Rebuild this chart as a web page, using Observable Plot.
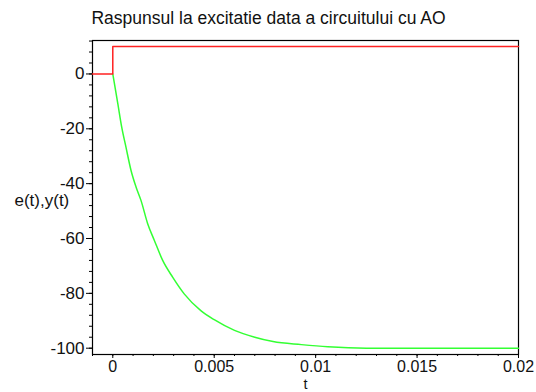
<!DOCTYPE html>
<html>
<head>
<meta charset="utf-8">
<script src="https://cdn.jsdelivr.net/npm/d3@7"></script>
<script src="https://cdn.jsdelivr.net/npm/@observablehq/plot@0.6"></script>
<style>
  html, body { margin: 0; padding: 0; background: #fff; }
</style>
</head>
<body>
<script>
const titleText = "Raspunsul la excitatie data a circuitului cu AO";
const xLabelText = "t";
const yLabelText = "e(t),y(t)";

// excitation e(t)
const tE = [-0.001, 0, 0, 0.02];
const vE = [0, 0, 10, 10];

// response y(t)
const tY = [0, 0.00025, 0.00044, 0.00065, 0.0009, 0.00115, 0.00139, 0.00172, 0.00205, 0.00246, 0.00295, 0.00352, 0.00434, 0.005, 0.006, 0.007, 0.0079, 0.0093, 0.0106, 0.0125, 0.0142, 0.02];
const vY = [0, -10.9, -19.4, -26.7, -35.2, -41.3, -46.1, -54.6, -60.7, -68.0, -74.1, -80.2, -86.3, -89.6, -93.5, -96.0, -97.6, -98.7, -99.5, -100, -100, -100];

const xTicks = [0, 0.005, 0.01, 0.015, 0.02];
const xTickLabels = ["0", "0.005", "0.01", "0.015", "0.02"];
const xMinorTicks = d3.range(-1, 21).map(i => i / 1000);
const yTicks = [-100, -80, -60, -40, -20, 0];
const yTickLabels = ["-100", "-80", "-60", "-40", "-20", "0"];
const yMinorTicks = d3.range(-100, 13, 4);

const eData = tE.map((t, i) => ({t, v: vE[i]}));
const yData = tY.map((t, i) => ({t, v: vY[i]}));

const chart = Plot.plot({
  width: 536,
  height: 392,
  marginLeft: 92,
  marginRight: 18,
  marginTop: 40,
  marginBottom: 38,
  style: {fontFamily: "'Liberation Sans', Arial, sans-serif", fontSize: "17px", background: "#fff", color: "#000"},
  x: {domain: [-0.001, 0.02]},
  y: {domain: [-102.3, 12.2]},
  marks: [
    Plot.axisX({ticks: xMinorTicks, tickSize: 2, text: null, label: null, stroke: "#000"}),
    Plot.axisX({ticks: xTicks, tickSize: 4, tickPadding: 2, tickFormat: (d) => xTickLabels[xTicks.indexOf(d)], label: null, fontSize: 16, fill: "#111"}),
    Plot.axisY({ticks: yMinorTicks, tickSize: 3, text: null, label: null, stroke: "#000"}),
    Plot.axisY({ticks: yTicks, tickSize: 6, tickPadding: 2, tickFormat: (d) => yTickLabels[yTicks.indexOf(d)], label: null, fontSize: 17, fill: "#111"}),
    Plot.frame({stroke: "#000", strokeWidth: 1.2}),
    Plot.line(yData, {x: "t", y: "v", stroke: "#33ff33", strokeWidth: 1.5, curve: "monotone-x"}),
    Plot.line(eData, {x: "t", y: "v", stroke: "#ff2222", strokeWidth: 1.5}),
    Plot.text([titleText], {text: d => d, frameAnchor: "top", dx: -37, dy: -17, lineAnchor: "bottom", fontSize: 17.5, fill: "#111"}),
    Plot.text([yLabelText], {text: d => d, frameAnchor: "left", textAnchor: "start", dx: -78, dy: 8, lineAnchor: "bottom", fontSize: 17, fill: "#111"}),
    Plot.text([xLabelText], {text: d => d, frameAnchor: "bottom", dy: 34.5, lineAnchor: "bottom", fontSize: 14.5, fill: "#111"})
  ]
});
document.body.appendChild(chart);
</script>
</body>
</html>
